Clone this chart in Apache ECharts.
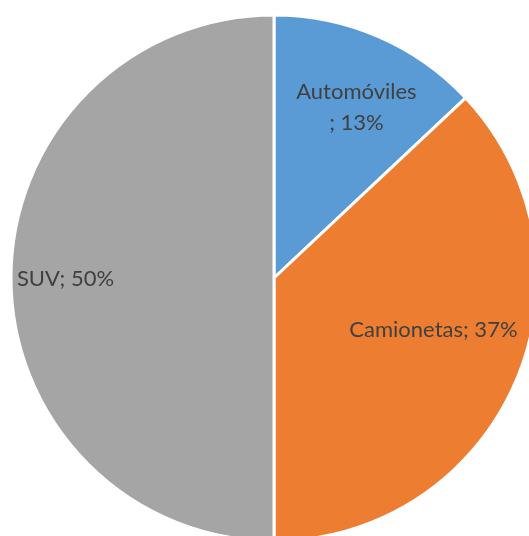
<!DOCTYPE html>
<html>
<head>
<meta charset="utf-8">
<script src="https://cdn.jsdelivr.net/npm/echarts@6/dist/echarts.min.js"></script>
<style>
	html, body { margin: 0; padding: 0; background: #ffffff; }
	#main { width: 529px; height: 536px; }
</style>
</head>
<body>
<div id="main"></div>
<script>
// datos del gráfico
var categorias = ['Automóviles', 'Camionetas', 'SUV'];
var valores = [13, 37, 50];
var colores = ['#5B9BD5', '#ED7D31', '#A5A5A5'];

// desplazamiento de etiquetas respecto a la posición "inside"
var ajusteEtiquetas = [[29, -47], [36, -2], [-74, 1]];

var datos = [];
for (var i = 0; i < categorias.length; i++) {
	datos.push({ name: categorias[i], value: valores[i], itemStyle: { color: colores[i] } });
}

var myChart = echarts.init(document.getElementById('main'));
var option = {
	backgroundColor: '#ffffff',
	animation: false,
	series: [
		{
			type: 'pie',
			center: [274, 278],
			radius: 263,
			startAngle: 90,
			clockwise: true,
			data: datos,
			itemStyle: {
				borderColor: '#ffffff',
				borderWidth: 3
			},
			label: {
				show: true,
				position: 'inside',
				color: '#404040',
				fontFamily: 'Lato',
				fontSize: 22,
				lineHeight: 31,
				formatter: function (p) {
					if (p.dataIndex === 0) {
						return p.name + '\n; ' + p.value + '%';
					}
					return p.name + '; ' + p.value + '%';
				}
			},
			labelLine: { show: false },
			labelLayout: function (params) {
				var a = ajusteEtiquetas[params.dataIndex];
				return { dx: a[0], dy: a[1] };
			}
		}
	]
};
myChart.setOption(option);
</script>
</body>
</html>
